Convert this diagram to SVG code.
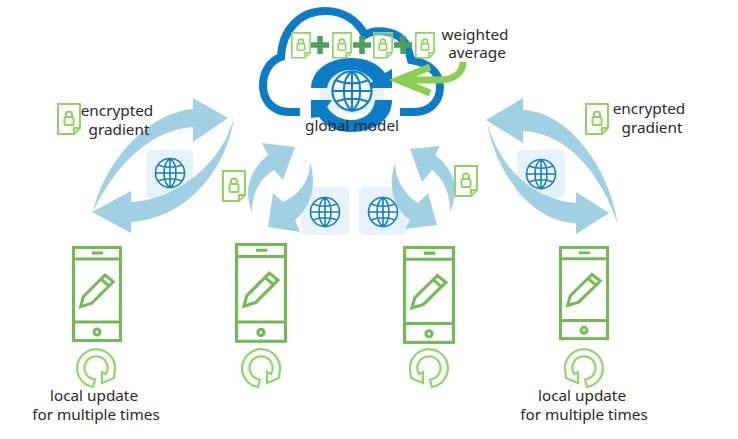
<svg xmlns="http://www.w3.org/2000/svg" width="738" height="439" viewBox="0 0 738 439">
<style>
text{font-family:"Noto Sans","Open Sans","Liberation Sans",sans-serif;font-size:15.3px;fill:#2a2a2a;text-anchor:middle}
.arr{fill:#9ccde2;fill-opacity:.95}
.sq{fill:#e8f2fb}
.doc{fill:#fff;fill-opacity:.35;stroke:#8fd45f;stroke-width:2}
.lock{fill:none;stroke:#8fd45f;stroke-width:2}
.globe{fill:#fff;stroke:#0d7fcf;stroke-width:1.6}
.ph{fill:none;stroke:#72bb53;stroke-width:3}
.loop{fill:#fff;stroke:#8fd66a;stroke-width:2.2}
.plus{stroke:#4d9f5c;stroke-width:5.5;fill:none}
.blue{fill:#0a7cc8}
</style>
<defs>
<g id="globe">
<circle class="globe" r="14.5"/>
<path class="globe" style="fill:none" d="M0-14.5C-8-9-8 9 0 14.5C8 9 8-9 0-14.5M-14.5 0H14.5M0-14.5V14.5M-12-8C-5-5 5-5 12-8M-12 8C-5 5 5 5 12 8"/>
</g>
<g id="doc">
<path class="doc" d="M1 1H23V25L17 31H1Z"/>
<path class="doc" d="M23 25H17V31" style="fill:#cdeab0"/>
<rect class="lock" x="7.5" y="14" width="9" height="8" rx="1.5"/>
<path class="lock" d="M9 14V11.5C9 7.5 15 7.5 15 11.5V14"/>
</g>
<g id="phone">
<rect class="ph" x="1.5" y="1.5" width="47" height="93"/>
<path class="ph" d="M1.5 13H48.5M1.5 76H48.5M20 7H31"/>
<circle class="ph" cx="25" cy="86" r="3"/>
<path class="ph" d="M8.7 60.7L11.3 50.7L33 29L41.3 35.7L19.7 57.3ZM29 33L37 40"/>
</g>
<path id="loop" class="loop" d="M-3 19A19 19 0 1 1 18.5 5L18 10L6 15L6 4L10 6A11.6 11.6 0 1 0 -1 11.5Z"/>
</defs>

<g id="connectors">
<rect class="sq" x="146" y="150" width="47" height="48" rx="5"/>
<rect class="sq" x="517" y="150" width="48" height="48" rx="5"/>
<rect class="sq" x="301" y="187" width="48" height="48" rx="5"/>
<rect class="sq" x="359" y="187" width="48" height="48" rx="5"/>
<path class="arr" d="M93 212C105 160 150 112 193 109L193 98L228 118L193 142L193 127C150 130 115 165 93 212Z"/>
<path class="arr" d="M234 117C228 165 190 218 131 222L131 233L92 212L131 191L131 202C175 200 222 165 234 117Z"/>
<path class="arr" d="M618 225C610 170 570 112 523 110L523 98L486 120L523 143L523 131C565 133 600 170 618 225Z"/>
<path class="arr" d="M487 122C495 170 530 222 576 223L576 234L609 213L576 192L576 203C535 200 500 170 487 122Z"/>
<path class="arr" d="M252 212C243 190 250 170 268 155L262 143L295 147L283 180L274 170C258 180 252 195 252 212Z"/>
<path class="arr" d="M310 162C317 185 312 205 295 220L300 232L268 227L273 193L283 202C298 195 310 182 310 162Z"/>
<path class="arr" d="M450 212C460 190 455 170 435 155L440 146L410 149L422 182L432 170C445 180 450 195 450 212Z"/>
<path class="arr" d="M395 163C388 185 392 207 410 220L405 229L437 225L428 193L418 203C405 195 396 182 395 163Z"/>
</g>

<g id="server">
<path d="M300 112H290C270 112 263 98 263 85C263 70 272 60 281 57C282 30 300 11 325 11C345 11 358 22 365 35C375 29 393 30 403 40C408 46 410 55 411 60C428 63 440 72 440 87C440 103 428 112 415 112H400" fill="none" stroke="#0a7cc8" stroke-width="8"/>
<rect x="320" y="74" width="64" height="40" fill="#eaf3fb"/>
<path class="blue" d="M311 88C312 69 330 58 351 58C365 58 378 63 385 73L392 69V88H366L373 81C367 74 360 70 351 70C339 70 329 77 327 88Z"/>
<path class="blue" d="M392 100C392 120 374 132 351 132C337 132 326 127 319 117L311 118V100H332L327 107C333 116 342 120 351 120C365 120 374 112 375 100Z"/>
<use href="#globe" transform="translate(352 91) scale(1.35)"/>
<path class="plus" d="M311 45H329M320 36V54M353 45H371M362 36V54M394 45H412M403 36V54"/>
<use href="#doc" transform="translate(291 32) scale(.83)"/>
<use href="#doc" transform="translate(332 32) scale(.83)"/>
<use href="#doc" transform="translate(373 32) scale(.83)"/>
<use href="#doc" transform="translate(415 32) scale(.83)"/>
<path d="M430 67L398 80L430 93M398 80H440C452 80 463 74 463 62" fill="none" stroke="#8ccf50" stroke-width="7"/>
<text x="352" y="131">global model</text>
<text x="475" y="40">weighted</text>
<text x="477" y="58">average</text>
</g>

<g id="model-1"><use href="#globe" x="170" y="173"/></g>
<g id="model-2"><use href="#globe" x="325" y="212"/></g>
<g id="model-3"><use href="#globe" x="383" y="212"/></g>
<g id="model-4"><use href="#globe" x="541" y="174"/></g>

<g id="gradient-1"><use href="#doc" transform="translate(57 103)"/><text x="117" y="116">encrypted</text><text x="119" y="135">gradient</text></g>
<g id="gradient-2"><use href="#doc" transform="translate(222 170)"/></g>
<g id="gradient-3"><use href="#doc" transform="translate(454 165)"/></g>
<g id="gradient-4"><use href="#doc" transform="translate(585 103)"/><text x="649" y="114">encrypted</text><text x="652" y="133">gradient</text></g>

<g id="client-1"><use href="#phone" transform="translate(72 246)"/><use href="#loop" transform="translate(96 368)"/><text x="94" y="401">local update</text><text x="96" y="420">for multiple times</text></g>
<g id="client-2"><use href="#phone" transform="translate(235 243) scale(1.04 1.04)"/><use href="#loop" transform="translate(261 368)"/></g>
<g id="client-3"><use href="#phone" transform="translate(403 246) scale(1.04 1.02)"/><use href="#loop" transform="translate(429 368) scale(-1 1)"/></g>
<g id="client-4"><use href="#phone" transform="translate(559 246) scale(1 .98)"/><use href="#loop" transform="translate(584 368) scale(-1 1)"/><text x="582" y="401">local update</text><text x="584" y="420">for multiple times</text></g>
</svg>
